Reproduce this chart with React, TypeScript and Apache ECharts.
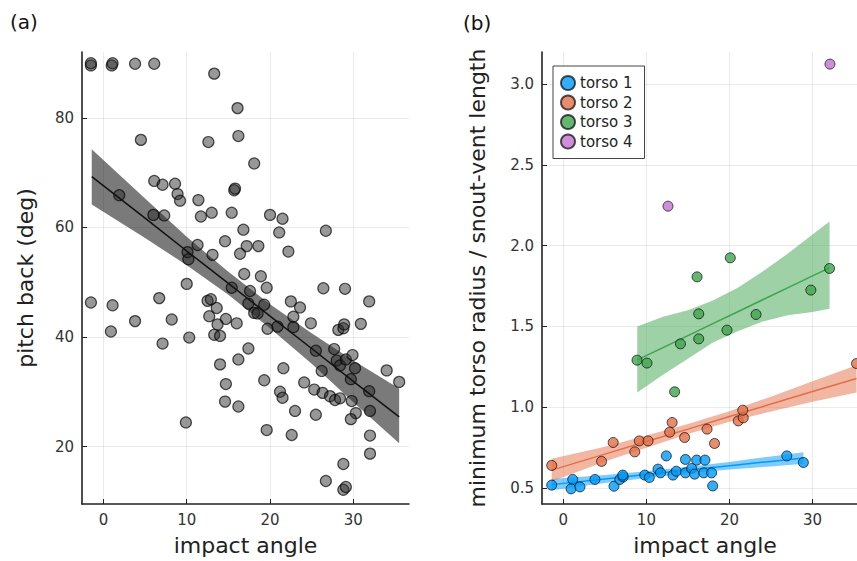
import React, { useEffect, useRef } from "react";
import * as echarts from "echarts";

// ---------- data ----------
const xTicks = [0, 10, 20, 30];
const leftYTicks = [20, 40, 60, 80];
const rightYTicks = [0.5, 1.0, 1.5, 2.0, 2.5, 3.0];

const pitchPoints: [number, number][] = [
  [-1.5, 89.6], [-1.5, 90.0], [1.0, 89.6], [1.1, 90.0], [3.8, 89.9], [6.1, 89.9], [13.3, 88.1], [16.1, 81.8], [16.2, 76.7], [12.6, 75.6], [4.5, 76.0],
  [6.1, 68.5], [7.1, 67.8], [8.6, 68.0], [8.9, 66.1], [9.2, 64.9], [1.9, 65.9], [11.4, 65.0], [15.7, 66.8], [15.8, 67.1],
  [6.0, 62.3], [7.3, 62.2], [11.7, 62.0], [13.0, 62.7], [15.4, 62.7], [16.8, 59.6], [11.3, 56.8], [10.1, 55.5], [10.2, 54.2], [14.6, 57.5], [13.1, 55.0], [16.4, 55.2], [17.2, 56.6], [18.6, 56.6], [16.9, 51.5], [18.1, 71.7],
  [20.0, 62.3], [21.5, 61.6], [21.1, 59.1], [26.7, 59.4], [22.2, 55.6], [18.9, 51.1], [19.6, 49.0], [15.4, 49.0], [17.6, 48.4], [10.0, 49.7],
  [12.5, 46.6], [12.9, 46.9], [13.6, 45.3], [12.7, 43.8], [14.7, 43.3], [16.0, 42.5], [13.7, 42.3], [13.3, 40.4], [14.0, 40.2], [8.2, 43.2], [10.3, 39.9],
  [17.4, 46.1], [18.1, 44.4], [18.5, 44.3], [19.3, 45.9], [19.7, 41.5], [20.9, 41.9], [22.5, 46.5], [23.6, 45.4], [22.8, 43.7], [22.8, 41.8], [24.9, 42.5],
  [26.4, 48.9], [29.0, 48.8], [31.9, 46.5], [28.2, 41.3], [28.8, 41.6], [28.9, 42.3], [30.9, 42.4],
  [25.5, 37.5], [27.7, 37.8], [28.0, 35.7], [28.4, 34.8], [29.1, 35.9], [29.9, 36.7], [30.2, 34.3], [29.7, 32.3], [26.2, 33.8], [31.9, 30.1], [32.0, 26.5], [34.0, 33.9], [35.5, 31.8],
  [14.0, 35.0], [16.2, 35.9], [17.4, 37.9], [21.6, 34.3], [19.3, 32.1], [14.7, 31.4], [14.6, 28.2], [16.2, 27.3], [21.2, 30.0], [21.5, 28.9], [24.1, 31.7],
  [25.3, 30.4], [26.3, 29.8], [27.2, 29.2], [27.8, 28.5], [28.4, 28.8], [29.8, 28.3], [30.3, 26.1], [29.7, 25.0], [23.0, 26.5], [25.5, 25.8], [9.9, 24.4], [19.6, 23.0], [22.6, 22.1],
  [32.0, 22.0], [32.0, 18.7], [28.8, 16.8], [26.7, 13.7], [28.8, 12.1], [29.1, 12.6],
  [-1.5, 46.3], [1.1, 45.8], [0.9, 41.0], [3.8, 42.9], [6.7, 47.1], [7.1, 38.8],
];
const pitchFitX = [-1.4, 5, 10, 15, 20, 25, 30, 35.5];
const pitchFitY = [69.3, 61.7, 55.7, 49.8, 43.8, 37.9, 31.9, 25.4];
const pitchFitUpper = [74.3, 65.3, 58.3, 51.9, 46.0, 40.7, 35.7, 30.6];
const pitchFitLower = [64.2, 58.1, 53.1, 47.7, 41.6, 35.1, 28.1, 20.6];

const torsoNames = ["torso 1", "torso 2", "torso 3", "torso 4"];
const torsoColors = ["#009AFA", "#E36F47", "#3EA44E", "#C371D2"];
const torso1: [number, number][] = [
  [-1.4, 0.517], [1.13, 0.552], [0.93, 0.494], [2.0, 0.506], [3.8, 0.552], [6.1, 0.51], [6.8, 0.552], [7.2, 0.568], [7.15, 0.579],
  [9.8, 0.579], [10.35, 0.564], [11.4, 0.616], [11.7, 0.593], [12.4, 0.698], [13.2, 0.579], [13.6, 0.603], [14.7, 0.676], [14.7, 0.593],
  [15.45, 0.62], [15.8, 0.585], [16.05, 0.672], [17.05, 0.672], [16.9, 0.593], [17.85, 0.593], [17.98, 0.512], [26.9, 0.698], [28.9, 0.657],
];
const torso2: [number, number][] = [
  [-1.4, 0.639], [4.6, 0.664], [6.0, 0.781], [8.6, 0.723], [9.15, 0.791], [10.2, 0.791], [12.8, 0.845], [13.1, 0.905], [14.6, 0.812],
  [17.3, 0.864], [18.2, 0.775], [21.06, 0.915], [21.66, 0.934], [21.6, 0.981], [35.3, 1.27],
];
const torso3: [number, number][] = [
  [8.87, 1.291], [10.07, 1.273], [13.4, 1.095], [14.1, 1.392], [16.1, 1.807], [16.3, 1.578], [16.3, 1.423], [19.7, 1.477],
  [20.1, 1.925], [23.2, 1.574], [29.8, 1.725], [32.05, 1.859],
];
const torso4: [number, number][] = [[12.6, 2.245], [32.1, 3.125]];

const fit1X = [-1.4, 5, 10, 15, 20, 25, 28.9];
const fit1Y = [0.52, 0.555, 0.582, 0.61, 0.637, 0.664, 0.685];
const fit1Upper = [0.555, 0.58, 0.603, 0.63, 0.66, 0.695, 0.72];
const fit1Lower = [0.485, 0.53, 0.561, 0.59, 0.614, 0.633, 0.65];

const fit2X = [-1.4, 5, 10, 15, 20, 25, 30, 35.3];
const fit2Y = [0.61, 0.709, 0.787, 0.864, 0.942, 1.019, 1.097, 1.178];
const fit2Upper = [0.68, 0.755, 0.825, 0.895, 0.975, 1.065, 1.16, 1.26];
const fit2Lower = [0.54, 0.663, 0.749, 0.833, 0.909, 0.973, 1.034, 1.09];

const fit3X = [8.9, 12, 15, 18, 21, 24, 27, 30, 32.05];
const fit3Y = [1.293, 1.369, 1.443, 1.517, 1.591, 1.665, 1.739, 1.813, 1.863];
const fit3Upper = [1.5, 1.56, 1.6, 1.66, 1.74, 1.84, 1.95, 2.07, 2.15];
const fit3Lower = [1.09, 1.2, 1.3, 1.4, 1.47, 1.53, 1.57, 1.59, 1.61];

// ---------- helpers ----------
const FONT = "DejaVu Sans";

function zip(xs: number[], ys: number[]) {
  return xs.map((x, i) => [x, ys[i]]);
}

function band(xs: number[], up: number[], lo: number[], fill: string, axis: number, z: number) {
  return {
    type: "custom",
    xAxisIndex: axis,
    yAxisIndex: axis,
    z,
    silent: true,
    clip: true,
    data: [[xs[0], up[0]]],
    renderItem: (_p: any, api: any) => {
      const pts: number[][] = [];
      xs.forEach((x, i) => pts.push(api.coord([x, up[i]])));
      for (let i = xs.length - 1; i >= 0; i--) pts.push(api.coord([xs[i], lo[i]]));
      return { type: "polygon", shape: { points: pts }, style: { fill } };
    },
  };
}

function fitLine(xs: number[], ys: number[], color: string, axis: number, z: number) {
  return {
    type: "line",
    xAxisIndex: axis,
    yAxisIndex: axis,
    z,
    silent: true,
    symbol: "none",
    data: zip(xs, ys),
    lineStyle: { color, width: 1.5 },
  };
}

function xAxis(gridIndex: number) {
  return {
    type: "value",
    gridIndex,
    min: -2.57,
    max: 36.68,
    name: "impact angle",
    nameLocation: "middle",
    nameGap: 30,
    nameTextStyle: { fontFamily: FONT, fontSize: 22, color: "#222" },
    axisLine: { show: true, onZero: false, lineStyle: { color: "#222", width: 1.6 } },
    axisTick: { show: true, inside: true, length: 5, customValues: xTicks, lineStyle: { color: "#222" } },
    axisLabel: { customValues: xTicks, margin: 8, fontFamily: FONT, fontSize: 15, color: "#333" },
    splitLine: { show: true, lineStyle: { color: "rgba(0,0,0,0.08)", width: 1 } },
  };
}

function yAxis(gridIndex: number, min: number, max: number, ticks: number[], name: string, gap: number, fmt?: (v: number) => string) {
  return {
    type: "value",
    gridIndex,
    min,
    max,
    name,
    nameLocation: "middle",
    nameGap: gap,
    nameRotate: 90,
    nameTextStyle: { fontFamily: FONT, fontSize: 22, color: "#222" },
    axisLine: { show: true, onZero: false, lineStyle: { color: "#222", width: 1.6 } },
    axisTick: { show: true, inside: true, length: 5, customValues: ticks, lineStyle: { color: "#222" } },
    axisLabel: { customValues: ticks, margin: 8, fontFamily: FONT, fontSize: 15, color: "#333", formatter: fmt },
    splitLine: { show: true, lineStyle: { color: "rgba(0,0,0,0.08)", width: 1 } },
  };
}

const torsoData = [torso1, torso2, torso3, torso4];

const option: any = {
  animation: false,
  backgroundColor: "#ffffff",
  graphic: [
    { type: "text", left: 10, top: 12, style: { text: "(a)", fontFamily: FONT, fontSize: 20, fill: "#111" } },
    { type: "text", left: 463, top: 13, style: { text: "(b)", fontFamily: FONT, fontSize: 20, fill: "#111" } },
  ],
  grid: [
    { left: 82, top: 52, width: 327, height: 452 },
    { left: 542, top: 52, width: 326, height: 452 },
  ],
  xAxis: [xAxis(0), xAxis(1)],
  yAxis: [
    yAxis(0, 9.5, 92.05, leftYTicks, "pitch back (deg)", 46),
    yAxis(1, 0.4, 3.2, rightYTicks, "minimum torso radius / snout-vent length", 54, (v: number) => v.toFixed(1)),
  ],
  legend: {
    data: torsoNames,
    orient: "vertical",
    left: 553,
    top: 66,
    padding: [9, 12, 9, 7],
    itemGap: 3.5,
    itemWidth: 14,
    itemHeight: 14,
    icon: "circle",
    borderColor: "#444",
    borderWidth: 1,
    borderRadius: 0,
    backgroundColor: "#fff",
    textStyle: { fontFamily: FONT, fontSize: 15, color: "#222" },
  },
  series: [
    band(pitchFitX, pitchFitUpper, pitchFitLower, "rgba(0,0,0,0.52)", 0, 1),
    {
      type: "scatter",
      xAxisIndex: 0,
      yAxisIndex: 0,
      z: 2,
      symbolSize: 11,
      data: pitchPoints,
      itemStyle: { color: "rgba(40,40,40,0.6)", borderColor: "rgba(0,0,0,0.85)", borderWidth: 1.2 },
    },
    fitLine(pitchFitX, pitchFitY, "#111", 0, 3),
    band(fit1X, fit1Upper, fit1Lower, "rgba(0,154,250,0.5)", 1, 1),
    band(fit2X, fit2Upper, fit2Lower, "rgba(227,111,71,0.5)", 1, 1),
    band(fit3X, fit3Upper, fit3Lower, "rgba(62,164,78,0.5)", 1, 1),
    fitLine(fit1X, fit1Y, torsoColors[0], 1, 2),
    fitLine(fit2X, fit2Y, torsoColors[1], 1, 2),
    fitLine(fit3X, fit3Y, torsoColors[2], 1, 2),
    ...torsoData.map((d, i) => ({
      type: "scatter",
      name: torsoNames[i],
      xAxisIndex: 1,
      yAxisIndex: 1,
      z: 4,
      symbolSize: 10,
      data: d,
      itemStyle: { color: torsoColors[i], borderColor: "rgba(0,0,0,0.85)", borderWidth: 1 },
    })),
  ],
};

export default function App() {
  const ref = useRef<HTMLDivElement>(null);
  useEffect(() => {
    if (!ref.current) return;
    const chart = echarts.init(ref.current, null, { renderer: "svg" });
    chart.setOption(option);
    return () => chart.dispose();
  }, []);
  return (
    <div
      style={{ position: "absolute", left: 0, top: 0, width: 857, height: 561, overflow: "hidden", background: "#fff" }}
    >
      <div ref={ref} style={{ width: 890, height: 561 }} />
    </div>
  );
}
